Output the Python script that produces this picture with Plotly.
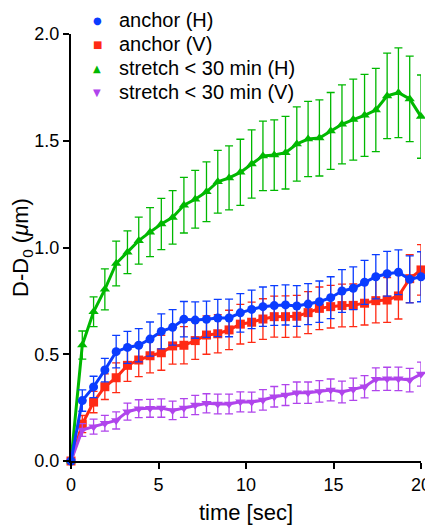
import plotly.graph_objects as go

time = [round(i * 20 / 31, 3) for i in range(32)]

anchor_h = [0.0, 0.283, 0.347, 0.426, 0.512, 0.532, 0.542, 0.571, 0.607, 0.626, 0.664, 0.660,
            0.664, 0.670, 0.670, 0.694, 0.710, 0.723, 0.728, 0.731, 0.726, 0.735, 0.746, 0.765,
            0.796, 0.809, 0.837, 0.863, 0.877, 0.884, 0.851, 0.863]
anchor_h_err = [0.0, 0.05, 0.05, 0.055, 0.076, 0.075, 0.078, 0.08, 0.082, 0.083, 0.083, 0.085,
                0.085, 0.087, 0.088, 0.09, 0.09, 0.092, 0.093, 0.094, 0.095, 0.096, 0.097, 0.098,
                0.1, 0.1, 0.103, 0.104, 0.105, 0.105, 0.11, 0.117]

anchor_v = [0.0, 0.173, 0.276, 0.348, 0.390, 0.448, 0.473, 0.493, 0.507, 0.539, 0.542, 0.564,
            0.590, 0.596, 0.614, 0.641, 0.650, 0.665, 0.676, 0.676, 0.678, 0.695, 0.715, 0.723,
            0.728, 0.729, 0.739, 0.751, 0.754, 0.773, 0.854, 0.895]
anchor_v_err = [0.0, 0.04, 0.05, 0.06, 0.07, 0.075, 0.078, 0.08, 0.082, 0.085, 0.087, 0.088,
                0.09, 0.09, 0.092, 0.093, 0.094, 0.095, 0.096, 0.097, 0.098, 0.098, 0.1, 0.1,
                0.1, 0.1, 0.102, 0.104, 0.105, 0.108, 0.112, 0.118]

stretch_h = [0.0, 0.543, 0.699, 0.804, 0.925, 0.978, 1.032, 1.072, 1.110, 1.141, 1.198, 1.226,
             1.261, 1.308, 1.326, 1.352, 1.391, 1.429, 1.433, 1.444, 1.485, 1.508, 1.513, 1.546,
             1.577, 1.599, 1.619, 1.644, 1.710, 1.725, 1.696, 1.613]
stretch_h_err = [0.0, 0.066, 0.07, 0.096, 0.105, 0.1, 0.11, 0.115, 0.12, 0.125, 0.13, 0.135,
                 0.14, 0.147, 0.15, 0.155, 0.16, 0.163, 0.165, 0.17, 0.174, 0.176, 0.178, 0.18,
                 0.185, 0.19, 0.192, 0.195, 0.2, 0.21, 0.2, 0.195]

stretch_v = [0.0, 0.145, 0.161, 0.177, 0.190, 0.231, 0.245, 0.247, 0.248, 0.237, 0.248, 0.262,
             0.270, 0.267, 0.267, 0.277, 0.276, 0.286, 0.301, 0.309, 0.320, 0.320, 0.326, 0.333,
             0.323, 0.336, 0.348, 0.383, 0.385, 0.385, 0.379, 0.407]
stretch_v_err = [0.0, 0.03, 0.035, 0.037, 0.04, 0.04, 0.042, 0.042, 0.043, 0.043, 0.044, 0.045,
                 0.045, 0.046, 0.046, 0.047, 0.047, 0.048, 0.048, 0.049, 0.05, 0.05, 0.05, 0.051,
                 0.051, 0.052, 0.052, 0.053, 0.054, 0.055, 0.055, 0.056]

names = ["anchor (H)", "anchor (V)", "stretch < 30 min (H)", "stretch < 30 min (V)"]
legend_glyphs = ["●", "■", "▲", "▼"]
colors = ["#0a3cff", "#ff2a14", "#00b800", "#b044ec"]
symbols = ["circle", "square", "triangle-up", "triangle-down"]
values = [anchor_h, anchor_v, stretch_h, stretch_v]
errors = [anchor_h_err, anchor_v_err, stretch_h_err, stretch_v_err]

fig = go.Figure()

draw_order = [1, 3, 2, 0]
for k in draw_order:
    fig.add_trace(go.Scatter(
        x=time, y=values[k], mode="lines+markers", name=names[k],
        line=dict(color=colors[k], width=3),
        marker=dict(color=colors[k], symbol=symbols[k], size=9),
        error_y=dict(type="data", array=errors[k], color=colors[k], thickness=1.3, width=4),
        showlegend=False, cliponaxis=False,
    ))

# legend drawn as text entries (row spacing of the original is tighter than plotly's legend)
legend_rows_y = [0.9735, 0.9205, 0.8675, 0.8145]
for k in range(4):
    fig.add_annotation(x=0.0743, y=legend_rows_y[k], xref="paper", yref="paper",
                       text=legend_glyphs[k], showarrow=False, xanchor="center", yanchor="middle",
                       font=dict(family="DejaVu Sans", size=10, color=colors[k]))
    fig.add_annotation(x=0.1314, y=legend_rows_y[k], xref="paper", yref="paper",
                       text=names[k].replace("<", "&lt;"), showarrow=False, xanchor="left",
                       yanchor="middle",
                       font=dict(family="Liberation Sans, Arial", size=20, color="black"))

axis_common = dict(
    showline=True, linecolor="black", linewidth=2, ticks="outside", ticklen=6,
    tickwidth=2, tickcolor="black", showgrid=False, zeroline=False, automargin=False,
    tickfont=dict(family="Liberation Sans, Arial", size=18, color="black"),
)

# page has an 8px body margin; plot area spans x 63..413, y 26..453 in figure pixels
fig.update_layout(
    width=425, height=517,
    margin=dict(l=63, r=12, t=0, b=64, autoexpand=False),
    plot_bgcolor="white", paper_bgcolor="white",
    font=dict(family="Liberation Sans, Arial", size=18, color="black"),
    xaxis=dict(range=[0, 20], tickvals=[0, 5, 10, 15, 20], ticktext=["0", "5", "10", "15", "20"],
               title=dict(text="time [sec]", standoff=13), **axis_common),
    yaxis=dict(range=[0, 2.0], tickvals=[0, 0.5, 1.0, 1.5, 2.0], domain=[0, 427 / 453],
               ticktext=["0.0", "0.5", "1.0", "1.5", "2.0"],
               title=dict(text="D-D<sub>0</sub> (<i>μ</i>m)", standoff=6), **axis_common),
    showlegend=False,
)

fig.add_shape(type="circle", xref="paper", yref="paper", x0=0.9857, x1=1.1686, y0=0.9936, y1=1.135,
              fillcolor="black", line=dict(color="black"), layer="above")

fig.write_html("out.html")
